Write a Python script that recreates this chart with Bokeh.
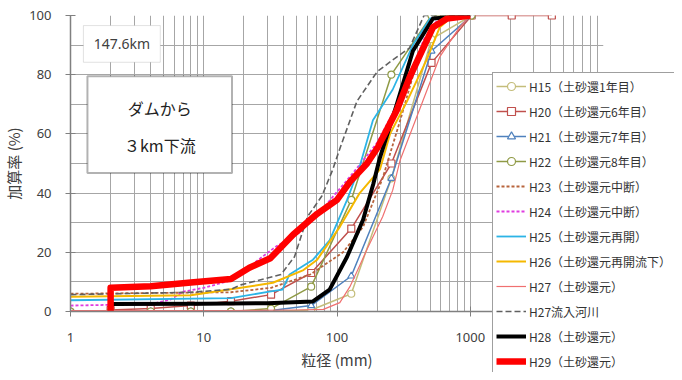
from bokeh.plotting import figure
from bokeh.layouts import column
from bokeh.models import (FixedTicker, NumeralTickFormatter, Legend, LegendItem,
                          BoxAnnotation, Label, Range1d, Column)
from bokeh.embed import file_html
from bokeh.resources import INLINE

# ---------------- data ----------------
h15_d = [1, 2, 4, 8, 16, 32, 64, 128, 256, 512, 1024]
h15_p = [0, 0, 0, 0, 0, 0, 0.5, 6, 45, 92, 100]

h20_d = [2, 4, 8, 16, 32, 64, 128, 256, 512, 1024, 2048, 4096]
h20_p = [0.5, 1, 2, 3.5, 5.7, 13, 28, 50, 84, 100, 100, 100]

h21_d = [1, 2, 4, 8, 16, 32, 64, 128, 256, 512, 1024]
h21_p = [0, 0, 0, 0, 0, 0.3, 2, 12, 45, 88, 100]

h22_d = [1, 2, 4, 8, 16, 32, 64, 128, 256, 512, 1024]
h22_p = [0, 0, 0, 0, 0, 1, 8.4, 37.7, 80, 100, 100]

h23_d = [1, 16, 32, 63, 111, 157, 220, 300, 420, 600]
h23_p = [6, 6.5, 8, 12.5, 20, 28.6, 45, 65, 88, 100]

h24_d = [1, 4, 5.6, 7, 10, 16, 35, 52, 79, 125, 200, 300, 450, 600]
h24_p = [2, 2.5, 4, 6.7, 8, 10.5, 22, 26.6, 35, 45.5, 57, 72, 92, 100]

h25_d = [1, 16, 31, 39, 44, 66, 88, 119, 148, 186, 262, 371, 500, 1000]
h25_p = [3.8, 4.5, 6.7, 7.4, 12.5, 17.5, 24, 37.7, 49, 64.6, 75, 90, 99, 100]

h26_d = [1, 8, 19, 33, 56, 71, 105, 148, 210, 250, 335, 470, 590, 750]
h26_p = [5, 5.5, 8, 9.7, 14, 17.5, 28.6, 40, 48, 60, 71, 85, 96, 100]

h27_d = [1, 16, 50, 79, 105, 125, 143, 168, 220, 262, 297, 440, 590, 830, 1000]
h27_p = [0.3, 0.3, 0.5, 0.7, 3, 8.4, 14, 21, 32, 41, 51, 71, 86, 96, 100]

h27r_d = [1, 8, 16, 19, 38, 48, 60, 77, 93, 105, 141, 200, 262, 350, 450, 1000]
h27r_p = [5.7, 6.5, 7.5, 9, 12.5, 18.5, 32, 39, 48, 55, 71, 81, 85, 89, 100, 100]

h28_d = [2, 10, 30, 66, 88, 119, 157, 187, 210, 281, 371, 525, 1000]
h28_p = [2.5, 2.6, 2.8, 3.4, 7.4, 18.5, 31, 43, 52, 70, 88, 99, 100]

h29_d = [2, 2, 4, 8, 16, 22, 31.6, 47, 71, 100, 125, 168, 203, 281, 350, 433, 525, 670, 1000]
h29_p = [0, 8, 8.5, 9.8, 11, 14.8, 18, 26, 33, 37.7, 43.8, 50, 55.6, 68, 79, 88, 96, 99, 100]

labels = ["H15（土砂還1年目）", "H20（土砂還元6年目）", "H21（土砂還元7年目）",
          "H22（土砂還元8年目）", "H23（土砂還元中断）", "H24（土砂還元中断）",
          "H25（土砂還元再開）", "H26（土砂還元再開流下）", "H27（土砂還元）",
          "H27流入河川", "H28（土砂還元）", "H29（土砂還元）"]

x_ticks = [1, 10, 100, 1000]
y_ticks = [0, 20, 40, 60, 80, 100]

# series styles: (color, width, dash, marker)
styles = [
    ("#c4bd7a", 1.5, "solid", "circle"),
    ("#c0504d", 1.5, "solid", "square"),
    ("#4f81bd", 1.5, "solid", "triangle"),
    ("#8f9a45", 1.5, "solid", "circle"),
    ("#b8643c", 1.8, "3 2", None),
    ("#e03ce0", 1.8, "3 2", None),
    ("#2cb4e6", 1.8, "solid", None),
    ("#f5b800", 2.0, "solid", None),
    ("#f07070", 1.2, "solid", None),
    ("#606060", 1.6, "6 3", None),
    ("#000000", 4.0, "solid", None),
    ("#ff0000", 6.5, "solid", None),
]
series = [(h15_d, h15_p), (h20_d, h20_p), (h21_d, h21_p), (h22_d, h22_p),
          (h23_d, h23_p), (h24_d, h24_p), (h25_d, h25_p), (h26_d, h26_p),
          (h27_d, h27_p), (h27r_d, h27r_p), (h28_d, h28_p), (h29_d, h29_p)]

W, H = 674, 372
BL = 70
font = "Noto Sans CJK JP"

# ---------------- main figure ----------------
p = figure(width=W, height=H, x_axis_type="log",
           x_range=Range1d(1, 10000), y_range=Range1d(0, 100),
           output_backend="svg", toolbar_location=None,
           min_border_left=BL, min_border_right=71, min_border_top=15,
           min_border_bottom=60)
p.outline_line_color = None
p.background_fill_color = "white"

grid_x = [m * 10 ** k for k in range(4) for m in range(1, 10)] + [10000]
p.xgrid.ticker = FixedTicker(ticks=grid_x)
p.ygrid.ticker = FixedTicker(ticks=list(range(0, 101, 10)))
for g in (p.xgrid, p.ygrid):
    g.grid_line_color = "#a6a6a6"
    g.grid_line_width = 1

p.xaxis.ticker = FixedTicker(ticks=x_ticks)
p.xaxis.formatter = NumeralTickFormatter(format="0")
p.yaxis.ticker = FixedTicker(ticks=y_ticks)
for ax in (p.xaxis, p.yaxis):
    ax.axis_line_color = "#808080"
    ax.axis_line_width = 1.5
    ax.major_tick_line_color = "#808080"
    ax.major_tick_in = 5
    ax.major_tick_out = 5
    ax.minor_tick_line_color = None
    ax.major_label_text_font = "Noto Sans"
    ax.major_label_text_font_size = "13px"
    ax.major_label_text_color = "#404040"
    ax.axis_label_text_font = font
    ax.axis_label_text_font_size = "15px"
    ax.axis_label_text_font_style = "normal"
    ax.axis_label_text_color = "#404040"
p.xaxis.major_label_standoff = 16
p.xaxis.axis_label_standoff = 4
p.yaxis.major_label_standoff = 14
p.yaxis.axis_label_standoff = 2
p.xaxis.axis_label = "粒径 (mm)"
p.yaxis.axis_label = "加算率 (%)"

for (d, v), (color, width, dash, marker) in zip(series, styles):
    p.line(d, v, line_color=color, line_width=width, line_dash=dash,
           line_join="round")
    if marker:
        p.scatter(d, v, marker=marker, size=7, line_color=color,
                  fill_color="white", line_width=1.2)

# ---------------- annotations ----------------
p.add_layout(BoxAnnotation(left=1.25, right=4.72, bottom=84.2, top=96.6,
                           fill_color="white", fill_alpha=1,
                           line_color="#a0a0a0", line_width=1))
p.add_layout(Label(x=2.43, y=90.4, text="147.6km", text_font="Noto Sans",
                   text_font_size="14px", text_color="#404040",
                   text_align="center", text_baseline="middle"))
p.add_layout(BoxAnnotation(left=1.34, right=16.3, bottom=46.8, top=79.5,
                           fill_color="white", fill_alpha=1,
                           line_color="black", line_width=2))
p.add_layout(Label(x=4.68, y=68.7, text="ダムから", text_font=font,
                   text_font_size="16px", text_color="#222222",
                   text_align="center", text_baseline="middle"))
p.add_layout(Label(x=4.68, y=56.2, text="３km下流", text_font=font,
                   text_font_size="16px", text_color="#222222",
                   text_align="center", text_baseline="middle"))

# ---------------- legend (overlaid panel) ----------------
# The legend lives in its own small figure laid over the main one; its
# renderers carry the same series but the view range excludes them, so only
# the legend box is visible.
LW, LH = 182, 300
q = figure(width=LW, height=LH, x_axis_type="log",
           x_range=Range1d(1e-6, 1e-5), y_range=Range1d(0, 100),
           output_backend="svg", toolbar_location=None,
           min_border=0)
q.axis.visible = False
q.grid.visible = False
q.outline_line_color = None
q.background_fill_alpha = 0
q.border_fill_alpha = 0

items = []
for lab, (d, v), (color, width, dash, marker) in zip(labels, series, styles):
    rs = [q.line(d, v, line_color=color, line_width=width, line_dash=dash)]
    if marker:
        rs.append(q.scatter(d, v, marker=marker, size=7, line_color=color,
                            fill_color="white", line_width=1.2))
    items.append(LegendItem(label=lab, renderers=rs))

legend = Legend(items=items, location="top_left")
legend.label_text_font = font
legend.label_text_font_size = "12px"
legend.label_text_color = "#333333"
legend.glyph_width = 30
legend.glyph_height = 20
legend.label_height = 20
legend.label_standoff = 3
legend.spacing = 5
legend.padding = 3
legend.margin = 0
legend.border_line_color = "#404040"
legend.border_line_width = 1
legend.background_fill_color = "white"
legend.background_fill_alpha = 1
q.add_layout(legend)

wrap = Column(children=[q], margin=(-LH, 0, 0, 492))
layout = column(p, wrap, spacing=0)
open("out.html", "w").write(file_html(layout, INLINE))
